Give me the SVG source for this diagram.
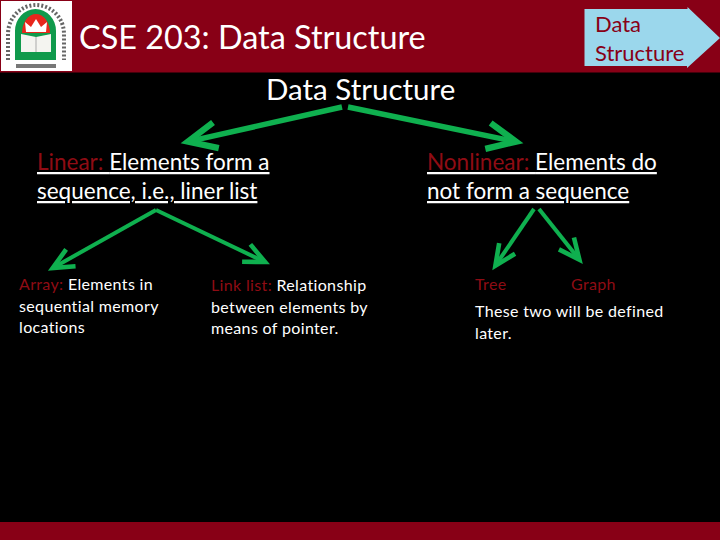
<svg xmlns="http://www.w3.org/2000/svg" width="720" height="540" viewBox="0 0 720 540">
<style>
text{font-family:Lato,Carlito,"Open Sans",sans-serif;fill:#fff}
.r{fill:#8f0c14}
.u{text-decoration:underline}
.m{font-size:22.5px}
.s{font-size:16px;letter-spacing:.35px}
.c{fill:none;stroke:#0fb04f;marker-end:url(#a)}
.big{stroke-width:5.5}
.thin{stroke-width:4}
</style>
<defs>
<marker id="a" viewBox="-1 -4 9 8" refX="5.2" refY="0" markerWidth="9" markerHeight="8" orient="auto" overflow="visible">
<path d="M0,-2.4L5.2,0L0,2.4" fill="none" stroke="#0fb04f" stroke-width="1.150"/>
</marker>
</defs>
<rect width="720" height="540" fill="#000"/>
<rect width="720" height="72.500" fill="#880016"/>
<rect y="522" width="720" height="18" fill="#880016"/>
<g id="logo">
<rect x="1" y="1" width="71" height="70" fill="#fff"/>
<path d="M8,60V34a28,29 0 0 1 56,0V60" fill="none" stroke="#666" stroke-width="4" stroke-dasharray="2 2"/>
<path d="M15,60V31a20.500,22 0 0 1 41,0V60Z" fill="#109a4c"/>
<path d="M22,33a14,19 0 0 1 28,0Z" fill="#e8261c"/>
<path d="M26,32l-1,-10 6,5 5,-8 5,8 6,-5 -1,10Z" fill="#fff"/>
<path d="M21,34L36,37L51,34V52H21Z" fill="#f4f4f0"/>
<path d="M36,37V52" stroke="#aaa" stroke-width="1"/>
<rect x="16" y="64" width="40" height="4" fill="#777"/>
</g>
<g id="title"><text x="79" y="49" font-size="32.400">CSE 203: Data Structure</text></g>
<g id="nav">
<path d="M584.500,9H687.500V7L720,38L687,68V66H584.500Z" fill="#9bd7ec"/>
<text x="595" y="32" font-size="22" style="fill:#880016">Data</text>
<text x="595" y="61" font-size="22" style="fill:#880016">Structure</text>
</g>
<g id="root"><text x="266" y="100" font-size="29.500">Data Structure</text></g>
<g id="connectors">
<path class="c big" d="M342,107L188,141.600"/>
<path class="c big" d="M348,107L516,141.700"/>
<path class="c thin" d="M156,210L52.700,268"/>
<path class="c thin" d="M156,210L265,262"/>
<path class="c thin" d="M534,209L495.400,265.600"/>
<path class="c thin" d="M539,209L579.400,259.700"/>
</g>
<g id="linear">
<text class="m u" x="37" y="170"><tspan class="r">Linear: </tspan>Elements form a</text>
<text class="m u" x="37" y="199">sequence, i.e., liner list</text>
</g>
<g id="nonlinear">
<text class="m u" x="427" y="170"><tspan class="r">Nonlinear: </tspan>Elements do</text>
<text class="m u" x="427" y="199">not form a sequence</text>
</g>
<g id="array">
<text class="s" x="19" y="290"><tspan class="r">Array: </tspan>Elements in</text>
<text class="s" x="19" y="312">sequential memory</text>
<text class="s" x="19" y="333">locations</text>
</g>
<g id="linklist">
<text class="s" x="211" y="291"><tspan class="r">Link list: </tspan>Relationship</text>
<text class="s" x="211" y="313">between elements by</text>
<text class="s" x="211" y="334">means of pointer.</text>
</g>
<g id="tree"><text class="s r" x="475" y="290">Tree</text></g>
<g id="graph"><text class="s r" x="571" y="290">Graph</text></g>
<g id="note">
<text class="s" x="475" y="317">These two will be defined</text>
<text class="s" x="475" y="339">later.</text>
</g>
</svg>
